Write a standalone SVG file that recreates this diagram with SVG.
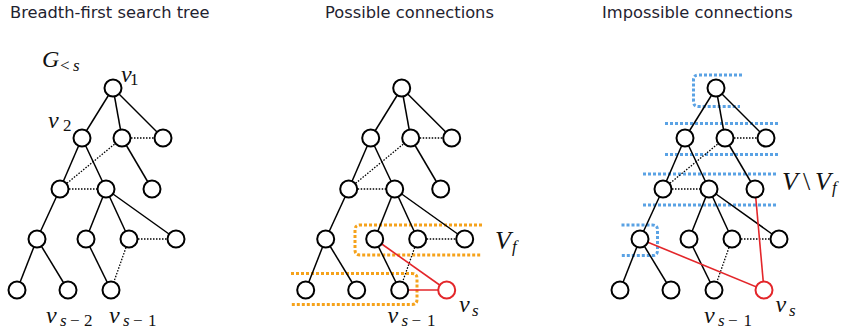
<svg xmlns="http://www.w3.org/2000/svg" width="852" height="330" viewBox="0 0 852 330">
<style>
.title{font-family:"DejaVu Sans",Verdana,sans-serif;font-size:16.3px;fill:#1f2330}
.m{font-family:"Liberation Serif","Times New Roman",serif;font-style:italic;font-size:24px;fill:#111}
.ms{font-family:"Liberation Serif","Times New Roman",serif;font-style:italic;font-size:17px;fill:#111}
.mu{font-family:"Liberation Serif","Times New Roman",serif;font-style:normal;font-size:17px;fill:#111}
.n circle{fill:#fff;stroke:#000;stroke-width:2}
.rn circle{fill:#fff;stroke:#e3262a;stroke-width:2}
.e line{stroke:#000;stroke-width:1.5}
.e line.d{stroke-width:1.3;stroke-dasharray:1.5 1.5}
.e line.r{stroke:#e3262a;stroke-width:1.6}
.ob{fill:none;stroke:#f5a21b;stroke-width:3;stroke-dasharray:3 2}
.bb{fill:none;stroke:#5aa2e4;stroke-width:3;stroke-dasharray:3 2}
</style>

<text class="title" x="10" y="17.5">Breadth-first search tree</text>
<text class="title" x="325" y="17.5">Possible connections</text>
<text class="title" x="602" y="17.5">Impossible connections</text>

<!-- Tree 1 -->
<g id="tree1">
  <g id="t1-connectors" class="e">
    <line x1="113" y1="88" x2="82" y2="138"/>
    <line x1="113" y1="88" x2="122" y2="138"/>
    <line x1="113" y1="88" x2="163" y2="138"/>
    <line x1="82" y1="138" x2="60" y2="189"/>
    <line x1="82" y1="138" x2="106" y2="189"/>
    <line x1="122" y1="138" x2="152" y2="189"/>
    <line x1="60" y1="189" x2="37" y2="239"/>
    <line x1="106" y1="189" x2="86" y2="239"/>
    <line x1="106" y1="189" x2="129" y2="239"/>
    <line x1="106" y1="189" x2="176" y2="239"/>
    <line x1="37" y1="239" x2="17" y2="290"/>
    <line x1="37" y1="239" x2="68" y2="290"/>
    <line x1="86" y1="239" x2="111" y2="290"/>
    <line class="d" x1="122" y1="138" x2="163" y2="138"/>
    <line class="d" x1="60" y1="189" x2="122" y2="138"/>
    <line class="d" x1="60" y1="189" x2="106" y2="189"/>
    <line class="d" x1="129" y1="239" x2="176" y2="239"/>
    <line class="d" x1="129" y1="239" x2="111" y2="290"/>
  </g>
  <g id="t1-a" class="n"><circle cx="113" cy="88" r="8.5"/></g>
  <g id="t1-b" class="n"><circle cx="82" cy="138" r="8.5"/></g>
  <g id="t1-c" class="n"><circle cx="122" cy="138" r="8.5"/></g>
  <g id="t1-d" class="n"><circle cx="163" cy="138" r="8.5"/></g>
  <g id="t1-e" class="n"><circle cx="60" cy="189" r="8.5"/></g>
  <g id="t1-f" class="n"><circle cx="106" cy="189" r="8.5"/></g>
  <g id="t1-g" class="n"><circle cx="152" cy="189" r="8.5"/></g>
  <g id="t1-h" class="n"><circle cx="37" cy="239" r="8.5"/></g>
  <g id="t1-i" class="n"><circle cx="86" cy="239" r="8.5"/></g>
  <g id="t1-j" class="n"><circle cx="129" cy="239" r="8.5"/></g>
  <g id="t1-k" class="n"><circle cx="176" cy="239" r="8.5"/></g>
  <g id="t1-l" class="n"><circle cx="17" cy="290" r="8.5"/></g>
  <g id="t1-m" class="n"><circle cx="68" cy="290" r="8.5"/></g>
  <g id="t1-n" class="n"><circle cx="111" cy="290" r="8.5"/></g>
</g>
<text class="m" x="42" y="66.5">G</text>
<text class="mu" x="60" y="71">&lt;</text><text class="ms" x="73" y="71">s</text>
<text class="m" x="121" y="82">v</text><text class="mu" x="130" y="85">1</text>
<text class="m" x="48" y="127.5">v</text><text class="mu" x="63" y="130.5">2</text>
<text class="m" x="46" y="322.5">v</text><text class="ms" x="60" y="325.5">s</text><text class="mu" x="70" y="325.5">−</text><text class="mu" x="84" y="325.5">2</text>
<text class="m" x="109" y="322.5">v</text><text class="ms" x="123" y="325.5">s</text><text class="mu" x="133" y="325.5">−</text><text class="mu" x="148" y="325.5">1</text>

<!-- Tree 2 -->
<path class="ob" d="M482,225 H360 Q355,225 355,230 V250 Q355,255 360,255 H482"/>
<path class="ob" d="M291,273.5 H412 Q417,273.5 417,278.5 V299.5 Q417,304.5 412,304.5 H291"/>
<g id="tree2" transform="translate(288.7,0)">
  <g id="t2-connectors" class="e">
    <line x1="113" y1="88" x2="82" y2="138"/>
    <line x1="113" y1="88" x2="122" y2="138"/>
    <line x1="113" y1="88" x2="163" y2="138"/>
    <line x1="82" y1="138" x2="60" y2="189"/>
    <line x1="82" y1="138" x2="106" y2="189"/>
    <line x1="122" y1="138" x2="152" y2="189"/>
    <line x1="60" y1="189" x2="37" y2="239"/>
    <line x1="106" y1="189" x2="86" y2="239"/>
    <line x1="106" y1="189" x2="129" y2="239"/>
    <line x1="106" y1="189" x2="176" y2="239"/>
    <line x1="37" y1="239" x2="17" y2="290"/>
    <line x1="37" y1="239" x2="68" y2="290"/>
    <line x1="86" y1="239" x2="111" y2="290"/>
    <line class="d" x1="122" y1="138" x2="163" y2="138"/>
    <line class="d" x1="60" y1="189" x2="122" y2="138"/>
    <line class="d" x1="60" y1="189" x2="106" y2="189"/>
    <line class="d" x1="129" y1="239" x2="176" y2="239"/>
    <line class="d" x1="129" y1="239" x2="111" y2="290"/>
    <line class="r" x1="158" y1="290" x2="86" y2="239"/>
    <line class="r" x1="158" y1="290" x2="111" y2="290"/>
  </g>
  <g id="t2-a" class="n"><circle cx="113" cy="88" r="8.5"/></g>
  <g id="t2-b" class="n"><circle cx="82" cy="138" r="8.5"/></g>
  <g id="t2-c" class="n"><circle cx="122" cy="138" r="8.5"/></g>
  <g id="t2-d" class="n"><circle cx="163" cy="138" r="8.5"/></g>
  <g id="t2-e" class="n"><circle cx="60" cy="189" r="8.5"/></g>
  <g id="t2-f" class="n"><circle cx="106" cy="189" r="8.5"/></g>
  <g id="t2-g" class="n"><circle cx="152" cy="189" r="8.5"/></g>
  <g id="t2-h" class="n"><circle cx="37" cy="239" r="8.5"/></g>
  <g id="t2-i" class="n"><circle cx="86" cy="239" r="8.5"/></g>
  <g id="t2-j" class="n"><circle cx="129" cy="239" r="8.5"/></g>
  <g id="t2-k" class="n"><circle cx="176" cy="239" r="8.5"/></g>
  <g id="t2-l" class="n"><circle cx="17" cy="290" r="8.5"/></g>
  <g id="t2-m" class="n"><circle cx="68" cy="290" r="8.5"/></g>
  <g id="t2-n" class="n"><circle cx="111" cy="290" r="8.5"/></g>
  <g id="t2-vs" class="rn"><circle cx="158" cy="290" r="8.5"/></g>
</g>
<text class="m" x="495" y="248.5" style="font-size:26px">V</text><text class="ms" x="512" y="252">f</text>
<text class="m" x="459" y="311.7">v</text><text class="ms" x="472" y="316">s</text>
<text class="m" x="387.5" y="322.5">v</text><text class="ms" x="401.5" y="325.5">s</text><text class="mu" x="411.5" y="325.5">−</text><text class="mu" x="427" y="325.5">1</text>

<!-- Tree 3 -->
<path class="bb" d="M742,75 H698.5 Q693.5,75 693.5,80 V101.5 Q693.5,106.5 698.5,106.5 H740"/>
<line class="bb" x1="665" y1="123.5" x2="780" y2="123.5"/>
<line class="bb" x1="665" y1="154.5" x2="780" y2="154.5"/>
<line class="bb" x1="643" y1="174" x2="778" y2="174"/>
<line class="bb" x1="643" y1="205" x2="778" y2="205"/>
<path class="bb" d="M621.5,225 H652.5 Q657.5,225 657.5,230 V250.5 Q657.5,255.5 652.5,255.5 H621.5"/>
<g id="tree3" transform="translate(603,0)">
  <g id="t3-connectors" class="e">
    <line x1="113" y1="88" x2="82" y2="138"/>
    <line x1="113" y1="88" x2="122" y2="138"/>
    <line x1="113" y1="88" x2="163" y2="138"/>
    <line x1="82" y1="138" x2="60" y2="189"/>
    <line x1="82" y1="138" x2="106" y2="189"/>
    <line x1="122" y1="138" x2="152" y2="189"/>
    <line x1="60" y1="189" x2="37" y2="239"/>
    <line x1="106" y1="189" x2="86" y2="239"/>
    <line x1="106" y1="189" x2="129" y2="239"/>
    <line x1="106" y1="189" x2="176" y2="239"/>
    <line x1="37" y1="239" x2="17" y2="290"/>
    <line x1="37" y1="239" x2="68" y2="290"/>
    <line x1="86" y1="239" x2="111" y2="290"/>
    <line class="d" x1="122" y1="138" x2="163" y2="138"/>
    <line class="d" x1="60" y1="189" x2="122" y2="138"/>
    <line class="d" x1="60" y1="189" x2="106" y2="189"/>
    <line class="d" x1="129" y1="239" x2="176" y2="239"/>
    <line class="d" x1="129" y1="239" x2="111" y2="290"/>
    <line class="r" x1="161" y1="290" x2="152" y2="189"/>
    <line class="r" x1="161" y1="290" x2="37" y2="239"/>
  </g>
  <g id="t3-a" class="n"><circle cx="113" cy="88" r="8.5"/></g>
  <g id="t3-b" class="n"><circle cx="82" cy="138" r="8.5"/></g>
  <g id="t3-c" class="n"><circle cx="122" cy="138" r="8.5"/></g>
  <g id="t3-d" class="n"><circle cx="163" cy="138" r="8.5"/></g>
  <g id="t3-e" class="n"><circle cx="60" cy="189" r="8.5"/></g>
  <g id="t3-f" class="n"><circle cx="106" cy="189" r="8.5"/></g>
  <g id="t3-g" class="n"><circle cx="152" cy="189" r="8.5"/></g>
  <g id="t3-h" class="n"><circle cx="37" cy="239" r="8.5"/></g>
  <g id="t3-i" class="n"><circle cx="86" cy="239" r="8.5"/></g>
  <g id="t3-j" class="n"><circle cx="129" cy="239" r="8.5"/></g>
  <g id="t3-k" class="n"><circle cx="176" cy="239" r="8.5"/></g>
  <g id="t3-l" class="n"><circle cx="17" cy="290" r="8.5"/></g>
  <g id="t3-m" class="n"><circle cx="68" cy="290" r="8.5"/></g>
  <g id="t3-n" class="n"><circle cx="111" cy="290" r="8.5"/></g>
  <g id="t3-vs" class="rn"><circle cx="161" cy="290" r="8.5"/></g>
</g>
<text class="m" x="782" y="189.5" style="font-size:26px">V</text><text class="m" x="803" y="189.5" style="font-style:normal;font-size:26px">\</text><text class="m" x="815" y="189.5" style="font-size:26px">V</text><text class="ms" x="832" y="193">f</text>
<text class="m" x="775.5" y="311.7">v</text><text class="ms" x="789" y="316">s</text>
<text class="m" x="704" y="323">v</text><text class="ms" x="718" y="326">s</text><text class="mu" x="728" y="326">−</text><text class="mu" x="743.5" y="326">1</text>
</svg>
